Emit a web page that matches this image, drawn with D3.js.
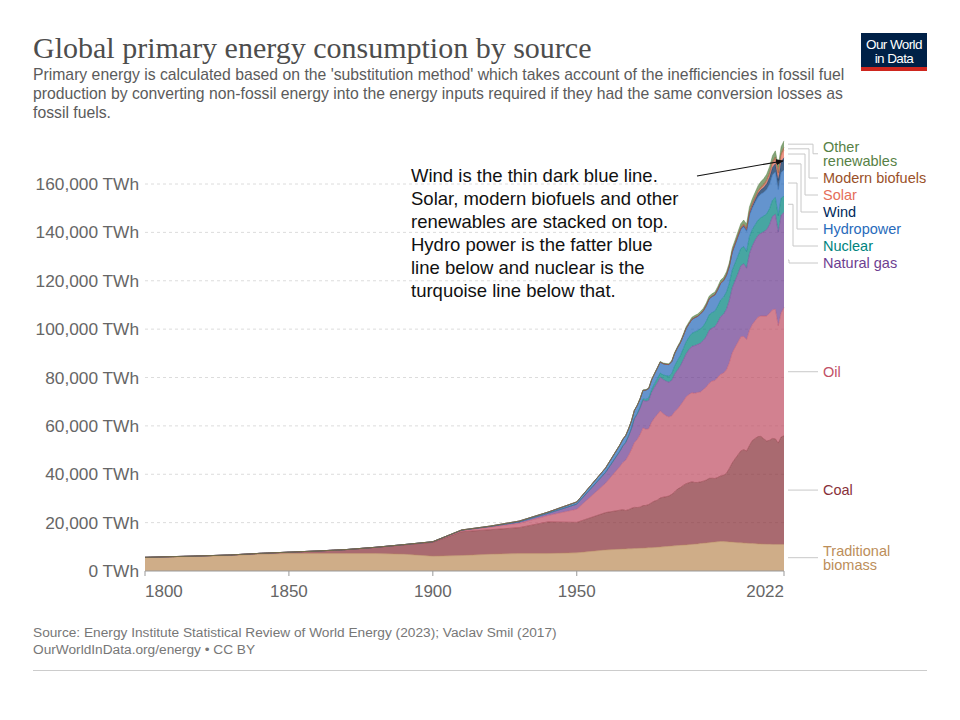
<!DOCTYPE html>
<html><head><meta charset="utf-8">
<script src="https://cdn.jsdelivr.net/npm/d3@7"></script>
<style>
body{margin:0;background:#fff;}
svg{display:block;font-family:"Liberation Sans",Arial,sans-serif;}
</style></head>
<body><svg id="c" width="960" height="720"></svg>
<script>
// ---------- DATA ----------
const years = [1800,1810,1820,1830,1840,1850,1860,1870,1880,1890,1900,1910,1920,1930,1940,1950,1960,
 1965,1966,1967,1968,1969,1970,1971,1972,1973,1974,1975,1976,1977,1978,1979,1980,1981,1982,1983,1984,
 1985,1986,1987,1988,1989,1990,1991,1992,1993,1994,1995,1996,1997,1998,1999,2000,2001,2002,2003,2004,
 2005,2006,2007,2008,2009,2010,2011,2012,2013,2014,2015,2016,2017,2018,2019,2020,2021,2022];

const traditionalBiomass = [5556,5833,6111,6389,6944,7222,7222,7222,7222,6944,6111,6389,6944,7222,7222,7500,8700,
 9000,9050,9100,9150,9200,9300,9350,9400,9450,9500,9600,9650,9700,9800,9900,10000,10100,10200,10300,10400,
 10500,10600,10700,10800,10900,11000,11100,11200,11350,11450,11600,11700,11850,11950,12100,12200,12150,12100,12000,11950,
 11800,11700,11650,11550,11500,11400,11350,11300,11200,11150,11100,11050,11050,11000,11000,11000,11000,11000];

const coal = [97,128,153,264,356,569,1061,1642,2542,3856,5728,9833,10125,10708,13083,12603,15442,
 16140,16300,15900,16200,16700,17000,16900,17000,17600,17600,17900,18600,19200,19500,20300,20500,20600,20800,21400,22300,
 23400,23900,24700,25300,25600,25900,25500,25400,25500,25700,26000,26600,26500,26300,26600,27100,27400,28300,30400,32700,
 34600,36300,38000,38600,38100,40500,42600,43500,44400,44500,43500,42700,43000,43800,43600,41900,44400,44900];

const oil = [0,0,0,0,0,0,0,6,33,89,181,508,1097,1764,2639,5444,12131,
 18100,19500,20800,22500,24300,26700,28100,30000,32100,31500,31300,33300,34400,35400,36000,34600,33500,32700,32500,33100,
 33100,34000,34800,35900,36500,36800,36900,37200,37200,37900,38500,39300,40200,40500,41400,42000,42300,42800,43700,45500,
 46100,46600,47200,46800,46100,47600,48000,48700,49400,49800,50800,51700,52500,53200,53600,48500,51300,52970];

const naturalGas = [0,0,0,0,0,0,0,0,0,33,64,142,233,600,875,2092,4472,
 6300,6800,7300,7900,8600,9900,10400,10900,11400,11600,11700,12300,12700,13200,13900,14100,14300,14400,14600,15600,
 16100,16300,17100,17800,18600,19200,19700,19900,20200,20300,20900,21900,21900,22200,22800,23900,24300,25000,25800,26900,
 27500,28300,29300,30100,29500,31700,32500,33400,33800,34200,34900,35700,36700,38600,39300,38700,40400,39400];

const nuclear = [0,0,0,0,0,0,0,0,0,0,0,0,0,0,0,0,0,
 70,90,110,140,165,220,310,430,570,740,1000,1170,1420,1660,1730,1900,2250,2430,2780,3350,
 3950,4250,4580,4950,5100,5330,5600,5650,5880,6000,6230,6440,6350,6470,6720,6860,7030,7120,7030,7300,
 7290,7360,7150,7050,6950,7120,6770,6270,6300,6400,6480,6520,6570,6680,6920,6790,6990,6700];

const hydropower = [0,0,0,0,0,0,0,0,0,0,50,94,183,350,533,925,1850,
 2560,2700,2780,2900,3050,3200,3350,3450,3550,3850,3930,3980,4070,4330,4540,4620,4690,4800,5020,5160,
 5280,5350,5400,5550,5540,5740,5900,5900,6170,6230,6480,6560,6650,6670,6700,6860,6740,6840,6860,7310,
 7560,7810,7900,8260,8260,8740,8840,9260,9550,9820,9760,10080,10200,10480,10570,10830,10640,10850];

const wind = [0,0,0,0,0,0,0,0,0,0,0,0,0,0,0,0,0,
 0,0,0,0,0,0,0,0,0,0,0,0,0,0,0,0,0,0,0,0,
 0,0,0,0,0,10,12,13,17,20,23,27,33,47,60,80,100,135,165,220,
 270,340,430,560,700,870,1070,1290,1530,1720,2000,2310,2750,3070,3380,3800,4400,5000];

const solar = [0,0,0,0,0,0,0,0,0,0,0,0,0,0,0,0,0,
 0,0,0,0,0,0,0,0,0,0,0,0,0,0,0,0,0,0,0,0,
 0,0,0,0,0,0,0,0,0,0,0,0,0,0,0,3,4,5,6,8,
 10,14,20,30,50,85,170,260,360,480,640,830,1100,1420,1730,2040,2510,3150];

const modernBiofuels = [0,0,0,0,0,0,0,0,0,0,0,0,0,0,0,0,0,
 0,0,0,0,0,0,0,0,0,0,0,0,0,0,0,0,0,0,0,0,
 0,0,0,0,0,100,100,100,105,105,110,110,115,115,120,120,125,140,170,200,
 250,330,430,540,600,680,690,690,740,800,820,850,900,1000,1080,1010,1080,1150];

const otherRenewables = [0,0,0,0,0,0,0,0,0,0,0,0,0,0,0,0,0,
 130,135,140,150,160,170,180,190,200,210,220,235,250,265,280,300,340,380,420,470,
 520,580,630,690,740,800,830,860,890,920,950,990,1020,1050,1090,1150,1180,1220,1270,1330,
 1400,1460,1530,1600,1650,1800,1880,1950,2030,2120,2250,2320,2380,2450,2520,2600,2650,2700];

const seriesNames = ["Traditional biomass","Coal","Oil","Natural gas","Nuclear","Hydropower","Wind","Solar","Modern biofuels","Other renewables"];
const seriesValues = [traditionalBiomass,coal,oil,naturalGas,nuclear,hydropower,wind,solar,modernBiofuels,otherRenewables];
const seriesLabelLines = [["Traditional","biomass"],["Coal"],["Oil"],["Natural gas"],["Nuclear"],["Hydropower"],["Wind"],["Solar"],["Modern biofuels"],["Other","renewables"]];
const seriesColors = ["#BC8E5A","#883039","#C15065","#6D3E91","#00847E","#286BBB","#00295B","#E56E5A","#9A5129","#578145"];

const yTicks = [0,20000,40000,60000,80000,100000,120000,140000,160000];
const xTicks = [1800,1850,1900,1950,2022];

// ---------- LAYOUT ----------
const svg = d3.select("#c");
const L = 145, R = 784, B = 571, T184 = 184, plotTop = 138;

const x = d3.scaleLinear().domain([1800,2022]).range([L,R]);
const y = d3.scaleLinear().domain([0,160000]).range([B,T184]);

// header
svg.append("text").attr("x",33).attr("y",58)
  .attr("font-family","'Liberation Serif','Times New Roman',serif")
  .attr("font-size",30).attr("fill","#4d4d4d").text("Global primary energy consumption by source");
const sub = ["Primary energy is calculated based on the 'substitution method' which takes account of the inefficiencies in fossil fuel",
 "production by converting non-fossil energy into the energy inputs required if they had the same conversion losses as",
 "fossil fuels."];
sub.forEach((s,i)=>svg.append("text").attr("x",33).attr("y",80+i*18.8)
  .attr("font-size",15.75).attr("fill","#5b5b5b").text(s));

// logo
const logo = svg.append("g");
logo.append("rect").attr("x",861).attr("y",33).attr("width",66).attr("height",38).attr("fill","#002147");
logo.append("rect").attr("x",861).attr("y",67).attr("width",66).attr("height",4).attr("fill","#ce261e");
logo.append("text").attr("x",894).attr("y",48.5).attr("text-anchor","middle").attr("fill","#fff")
  .attr("font-size",13.5).attr("letter-spacing",-0.6).text("Our World");
logo.append("text").attr("x",894).attr("y",63).attr("text-anchor","middle").attr("fill","#fff")
  .attr("font-size",13.5).attr("letter-spacing",-0.6).text("in Data");

// grid
svg.append("g").selectAll("line").data(yTicks.filter(d=>d>0)).join("line")
  .attr("x1",L).attr("x2",R).attr("y1",d=>y(d)).attr("y2",d=>y(d))
  .attr("stroke","#dcdcdc").attr("stroke-dasharray","3,3");

// y labels
svg.append("g").selectAll("text").data(yTicks).join("text")
  .attr("x",139).attr("y",d=>y(d)).attr("dy","0.35em").attr("text-anchor","end")
  .attr("font-size",17.3).attr("fill","#666")
  .text(d=>d3.format(",")(d)+" TWh");

// stack
const rows = years.map((yr,i)=>{const o={year:yr}; seriesNames.forEach((n,j)=>o[n]=seriesValues[j][i]); return o;});
const stacked = d3.stack().keys(seriesNames)(rows);
const area = d3.area().x(d=>x(d.data.year)).y0(d=>y(d[0])).y1(d=>y(d[1]));
const line = d3.line().x(d=>x(d.data.year)).y(d=>y(d[1]));
svg.append("g").selectAll("path").data(stacked).join("path")
  .attr("d",area).attr("fill",(d,i)=>seriesColors[i]).attr("fill-opacity",0.72);
svg.append("g").selectAll("path").data(stacked).join("path")
  .attr("d",line).attr("fill","none").attr("stroke",(d,i)=>seriesColors[i]).attr("stroke-width",0.6).attr("stroke-opacity",0.8);

// x axis
svg.append("line").attr("x1",L).attr("x2",R).attr("y1",B).attr("y2",B).attr("stroke","#999");
svg.append("g").selectAll("line").data(xTicks).join("line")
  .attr("x1",d=>x(d)).attr("x2",d=>x(d)).attr("y1",B).attr("y2",B+5).attr("stroke","#999");
svg.append("g").selectAll("text").data(xTicks).join("text")
  .attr("x",d=>x(d)).attr("y",597)
  .attr("text-anchor",(d,i)=>i===0?"start":(i===xTicks.length-1?"end":"middle"))
  .attr("font-size",17).attr("fill","#666").text(d=>d);

// right labels
const last = years.length-1;
const lineH = 14.5, pad = 2.5;
const items = stacked.map((s,i)=>({i, want: y((s[last][0]+s[last][1])/2), lines: seriesLabelLines[i]}));
const order = items.slice().sort((a,b)=>a.want-b.want);
let prevBottom = plotTop;
order.forEach(it=>{
  const h = it.lines.length*lineH + pad;
  let top = Math.max(it.want - h/2, prevBottom);
  it.top = top; it.h = h; it.center = top + h/2;
  prevBottom = top + h;
});
let k = 0;
const lab = svg.append("g");
order.forEach(it=>{
  const displaced = Math.abs(it.center - it.want) > 1.5;
  let p;
  if (displaced) { const ex = 813 - 4*k; k++; p = `M788,${it.want}H${ex}V${it.center}H818`; }
  else p = `M788,${it.want}H818`;
  lab.append("path").attr("d",p).attr("fill","none").attr("stroke","#c8c8c8").attr("stroke-width",1);
  it.lines.forEach((t,j)=>{
    lab.append("text").attr("x",823).attr("y",it.top+pad/2+lineH*(j+0.5)).attr("dy","0.35em")
      .attr("font-size",14.5).attr("fill",seriesColors[it.i]).text(t);
  });
});

// annotation
const ann = ["Wind is the thin dark blue line.","Solar, modern biofuels and other","renewables are stacked on top.",
 "Hydro power is the fatter blue","line below and nuclear is the","turquoise line below that."];
ann.forEach((s,i)=>svg.append("text").attr("x",411).attr("y",182+i*23).attr("font-size",18.5).attr("fill","#111").text(s));
svg.append("defs").append("marker").attr("id","ah").attr("viewBox","0 0 10 10").attr("refX",9).attr("refY",5)
  .attr("markerWidth",7).attr("markerHeight",7).attr("orient","auto")
  .append("path").attr("d","M0,1L10,5L0,9z").attr("fill","#111");
svg.append("line").attr("x1",697).attr("y1",176).attr("x2",783).attr("y2",161)
  .attr("stroke","#111").attr("stroke-width",1.1).attr("marker-end","url(#ah)");

// footer
svg.append("text").attr("x",33).attr("y",637).attr("font-size",13.7).attr("fill","#777")
  .text("Source: Energy Institute Statistical Review of World Energy (2023); Vaclav Smil (2017)");
svg.append("text").attr("x",33).attr("y",654).attr("font-size",13.7).attr("fill","#777")
  .text("OurWorldInData.org/energy • CC BY");
svg.append("line").attr("x1",33).attr("x2",927).attr("y1",670.5).attr("y2",670.5).attr("stroke","#ccc");
</script></body></html>
